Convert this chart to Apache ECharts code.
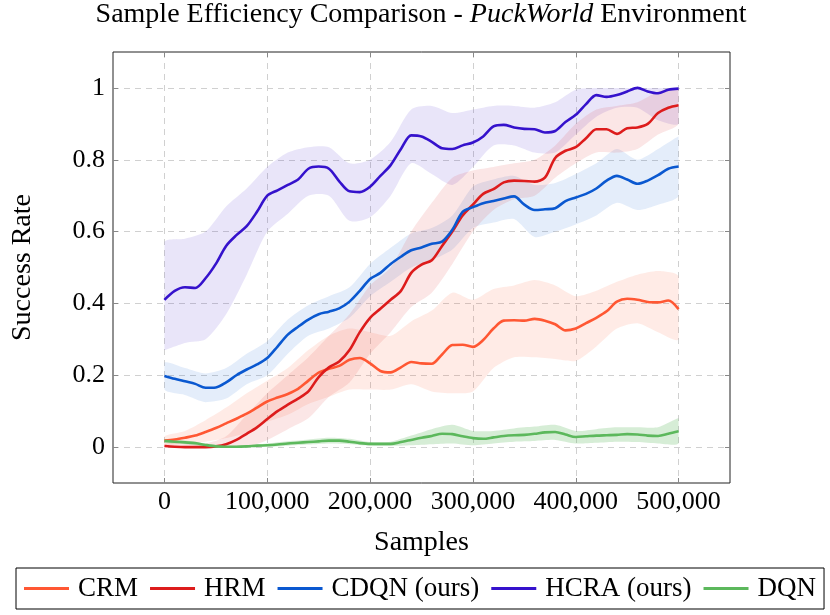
<!DOCTYPE html>
<html><head><meta charset="utf-8">
<script src="https://cdn.jsdelivr.net/npm/echarts@6/dist/echarts.min.js"></script>
<style>html,body{margin:0;padding:0;background:#fff}#c{width:830px;height:615px}</style>
</head><body><div id="c"></div>
<script>
// ---- data ----
const samples = [0,10000,20000,30000,40000,50000,60000,70000,80000,90000,100000,110000,120000,130000,140000,150000,160000,170000,180000,190000,200000,210000,220000,230000,240000,250000,260000,270000,280000,290000,300000,310000,320000,330000,340000,350000,360000,370000,380000,390000,400000,410000,420000,430000,440000,450000,460000,470000,480000,490000,500000];
const crm  = [0.018,0.021,0.026,0.032,0.042,0.053,0.066,0.079,0.093,0.110,0.127,0.138,0.148,0.162,0.185,0.207,0.218,0.226,0.243,0.248,0.233,0.212,0.208,0.222,0.237,0.233,0.232,0.258,0.284,0.285,0.279,0.298,0.330,0.352,0.353,0.352,0.357,0.352,0.342,0.325,0.330,0.345,0.360,0.378,0.405,0.413,0.410,0.404,0.403,0.408,0.384];
const hrm  = [0.003,0.001,0.000,0.000,0.000,0.002,0.008,0.020,0.037,0.055,0.078,0.100,0.118,0.135,0.155,0.195,0.222,0.238,0.270,0.320,0.360,0.385,0.410,0.435,0.485,0.508,0.520,0.560,0.600,0.645,0.675,0.705,0.718,0.737,0.742,0.741,0.739,0.750,0.805,0.825,0.835,0.860,0.885,0.885,0.872,0.888,0.890,0.900,0.930,0.945,0.952];
const cdqn = [0.198,0.190,0.183,0.176,0.165,0.166,0.180,0.200,0.216,0.230,0.248,0.280,0.313,0.335,0.355,0.370,0.377,0.386,0.405,0.435,0.468,0.485,0.510,0.530,0.548,0.556,0.566,0.572,0.605,0.655,0.668,0.679,0.685,0.692,0.698,0.675,0.660,0.662,0.665,0.685,0.695,0.705,0.720,0.742,0.755,0.745,0.733,0.742,0.757,0.775,0.781];
const hcra = [0.410,0.435,0.445,0.443,0.470,0.510,0.560,0.590,0.615,0.655,0.700,0.715,0.730,0.745,0.775,0.781,0.775,0.740,0.712,0.710,0.725,0.755,0.785,0.830,0.868,0.865,0.850,0.832,0.830,0.840,0.848,0.865,0.893,0.897,0.890,0.886,0.885,0.876,0.880,0.905,0.925,0.955,0.980,0.975,0.980,0.990,1.000,0.990,0.985,0.995,0.998];
const dqn  = [0.017,0.015,0.013,0.011,0.006,0.002,0.001,0.001,0.002,0.004,0.005,0.007,0.010,0.012,0.014,0.016,0.018,0.018,0.015,0.011,0.009,0.009,0.009,0.014,0.020,0.026,0.031,0.037,0.036,0.030,0.025,0.023,0.027,0.031,0.033,0.034,0.037,0.041,0.042,0.035,0.028,0.030,0.032,0.033,0.034,0.036,0.035,0.032,0.031,0.037,0.044];

// shaded spread (lower / upper), every 20,000 samples
const bandSamples = [0,20000,40000,60000,80000,100000,120000,140000,160000,180000,200000,220000,240000,260000,280000,300000,320000,340000,360000,380000,400000,420000,440000,460000,480000,500000];
const crmLow   = [0.005,0.010,0.015,0.025,0.040,0.070,0.090,0.120,0.140,0.160,0.160,0.160,0.175,0.155,0.150,0.155,0.220,0.250,0.250,0.245,0.240,0.280,0.330,0.345,0.320,0.300];
const crmHigh  = [0.030,0.045,0.075,0.110,0.150,0.185,0.220,0.270,0.310,0.330,0.320,0.310,0.350,0.380,0.430,0.410,0.440,0.450,0.465,0.450,0.420,0.435,0.460,0.480,0.490,0.475];
const hrmLow   = [0.000,0.000,0.000,0.000,0.000,0.020,0.050,0.080,0.140,0.180,0.260,0.320,0.390,0.430,0.510,0.600,0.660,0.690,0.700,0.750,0.790,0.820,0.820,0.830,0.870,0.900];
const hrmHigh  = [0.010,0.010,0.010,0.030,0.090,0.150,0.200,0.250,0.310,0.370,0.450,0.500,0.600,0.680,0.750,0.770,0.780,0.790,0.800,0.840,0.900,0.940,0.950,0.960,0.990,1.000];
const cdqnLow  = [0.160,0.145,0.125,0.135,0.175,0.200,0.260,0.310,0.330,0.360,0.420,0.460,0.500,0.520,0.550,0.610,0.625,0.635,0.585,0.600,0.620,0.645,0.680,0.660,0.675,0.700];
const cdqnHigh = [0.235,0.220,0.205,0.220,0.260,0.295,0.355,0.395,0.420,0.445,0.510,0.555,0.595,0.610,0.645,0.725,0.745,0.755,0.730,0.735,0.760,0.790,0.830,0.800,0.830,0.865];
const hcraLow  = [0.270,0.290,0.300,0.370,0.480,0.600,0.650,0.700,0.700,0.630,0.640,0.700,0.790,0.760,0.730,0.780,0.840,0.840,0.820,0.820,0.870,0.920,0.945,0.945,0.910,0.900];
const hcraHigh = [0.570,0.580,0.600,0.670,0.720,0.780,0.820,0.835,0.835,0.790,0.800,0.850,0.940,0.950,0.930,0.940,0.950,0.950,0.945,0.960,0.995,1.000,1.000,1.000,1.000,1.000];
const dqnLow   = [0.012,0.008,0.002,0.000,0.000,0.001,0.004,0.007,0.010,0.008,0.004,0.003,0.005,0.008,0.010,0.005,0.010,0.015,0.017,0.020,0.010,0.012,0.015,0.014,0.010,0.010];
const dqnHigh  = [0.022,0.018,0.010,0.004,0.005,0.010,0.016,0.021,0.026,0.023,0.014,0.015,0.032,0.050,0.062,0.045,0.045,0.052,0.057,0.062,0.045,0.050,0.055,0.055,0.055,0.080];

const xTicks = [0,100000,200000,300000,400000,500000];
const yTicks = [0,0.2,0.4,0.6,0.8,1];

// ---- chart ----
const SERIF = "'Liberation Serif', 'DejaVu Serif', serif";
const TXT = 28;
const TICK = 26;
const colors = {CRM:'#ff5733', HRM:'#dd1c1c', CDQN:'#0a58d0', HCRA:'#3512cc', DQN:'#5cb85c'};
const chart = echarts.init(document.getElementById('c'), null, {renderer:'canvas'});

// spread drawn as one filled polygon through the axis scales
function band(xs, lo, hi, fill) {
  return {
    type:'custom', silent:true, z:1, clip:true,
    data: xs.map((x,i)=>[x, lo[i], hi[i]]),
    encode:{x:0, y:[1,2]},
    renderItem: function(params, api){
      if (params.dataIndex !== 0) return null;
      const pts = [];
      for (let i=0;i<xs.length;i++) pts.push(api.coord([xs[i], hi[i]]));
      for (let i=xs.length-1;i>=0;i--) pts.push(api.coord([xs[i], lo[i]]));
      const p0 = pts[0].slice();
      return {type:'polygon', shape:{points:pts, smooth:0.25, smoothConstraint:[p0, p0]}, style:{fill:fill}};
    }
  };
}
function line(name, vals, color) {
  return {
    type:'line', name:name, data: samples.map((x,i)=>[x, vals[i]]),
    showSymbol:false, smooth:0.3, z:3,
    lineStyle:{color:color, width:2.6}, itemStyle:{color:color}
  };
}
const tickStyle = {show:true, inside:true, length:5, lineStyle:{color:'#888', width:1}};
const axisCommonX = {type:'value', min:-50000, max:550000, axisLine:{show:false, onZero:false}};
const axisCommonY = {type:'value', min:-0.1, max:1.1, axisLine:{show:false, onZero:false}};

chart.setOption({
  animation:false,
  backgroundColor:'#fff',
  title:{
    text:'{a|Sample Efficiency Comparison - }{b|PuckWorld}{a| Environment}',
    left:421, top:1, padding:0, textAlign:'center',
    textStyle:{fontWeight:'normal', rich:{
      a:{fontFamily:SERIF, fontSize:TXT, color:'#000', fontWeight:'normal'},
      b:{fontFamily:SERIF, fontSize:TXT, color:'#000', fontStyle:'italic', fontWeight:'normal'}
    }}
  },
  legend:{
    data:['CRM','HRM','CDQN (ours)','HCRA (ours)','DQN'],
    left:16, top:568, padding:[7,8,7,8], itemGap:12, itemWidth:45, itemHeight:3,
    icon:'rect', borderColor:'#000', borderWidth:1,
    textStyle:{fontFamily:SERIF, fontSize:27, color:'#000', padding:[0,0,0,4]}
  },
  grid:{left:113, right:100, top:52, bottom:132, show:true, borderColor:'#222', borderWidth:1, backgroundColor:'transparent'},
  xAxis:[
    Object.assign({}, axisCommonX, {
      position:'bottom',
      name:'Samples', nameLocation:'middle', nameGap:46,
      nameTextStyle:{fontFamily:SERIF, fontSize:TXT, color:'#000'},
      axisTick:Object.assign({customValues:xTicks}, tickStyle),
      axisLabel:{customValues:xTicks, fontFamily:SERIF, fontSize:TICK, color:'#000', margin:6,
        formatter:v=>v.toLocaleString('en-US')},
      splitLine:{show:true, lineStyle:{color:'#d0d0d0', type:[6,5], width:1}}
    }),
    Object.assign({}, axisCommonX, {
      position:'top',
      axisTick:Object.assign({customValues:xTicks}, tickStyle),
      axisLabel:{show:false}, splitLine:{show:false}
    })
  ],
  yAxis:[
    Object.assign({}, axisCommonY, {
      position:'left',
      name:'Success Rate', nameLocation:'middle', nameGap:76,
      nameTextStyle:{fontFamily:SERIF, fontSize:TXT, color:'#000'},
      axisTick:Object.assign({customValues:yTicks}, tickStyle),
      axisLabel:{customValues:yTicks, fontFamily:SERIF, fontSize:TICK, color:'#000', margin:8},
      splitLine:{show:true, lineStyle:{color:'#d0d0d0', type:[6,5], width:1}}
    }),
    Object.assign({}, axisCommonY, {
      position:'right',
      axisTick:Object.assign({customValues:yTicks}, tickStyle),
      axisLabel:{show:false}, splitLine:{show:false}
    })
  ],
  series:[
    band(bandSamples, hcraLow, hcraHigh, 'rgba(53,18,204,0.11)'),
    band(bandSamples, cdqnLow, cdqnHigh, 'rgba(10,88,208,0.11)'),
    band(bandSamples, hrmLow, hrmHigh, 'rgba(221,28,28,0.11)'),
    band(bandSamples, crmLow, crmHigh, 'rgba(255,87,51,0.12)'),
    band(bandSamples, dqnLow, dqnHigh, 'rgba(92,184,92,0.25)'),
    line('CRM', crm, colors.CRM),
    line('HRM', hrm, colors.HRM),
    line('CDQN (ours)', cdqn, colors.CDQN),
    line('HCRA (ours)', hcra, colors.HCRA),
    line('DQN', dqn, colors.DQN)
  ]
});
</script></body></html>
